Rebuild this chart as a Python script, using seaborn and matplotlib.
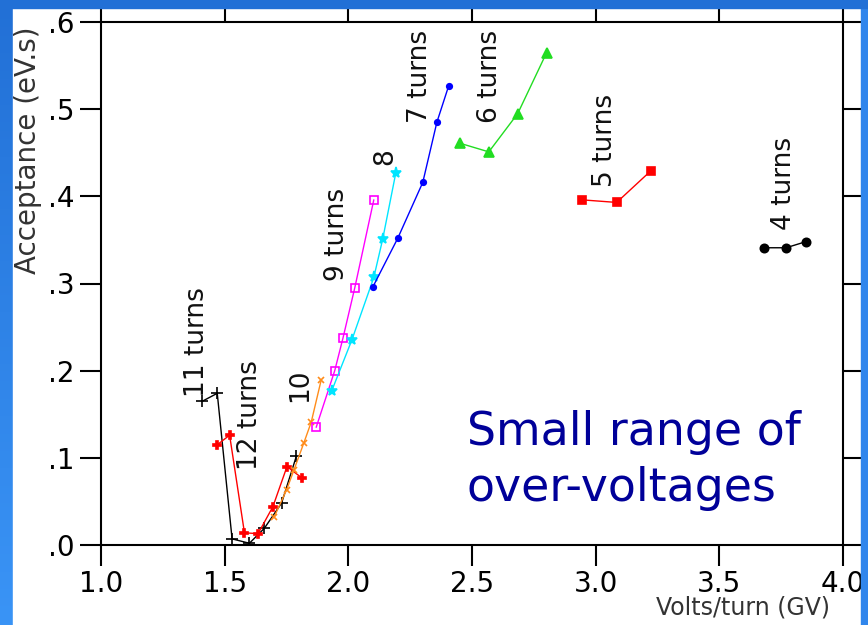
import numpy as np
import pandas as pd
import matplotlib
matplotlib.use("Agg")
import matplotlib.pyplot as plt
from matplotlib.patches import Rectangle
import seaborn as sns

# data: volts/turn (GV) vs acceptance (eV.s)
x_11 = [1.41, 1.47, 1.53, 1.60, 1.66, 1.73, 1.79]
y_11 = [0.165, 0.174, 0.007, 0.002, 0.019, 0.048, 0.102]
x_12 = [1.47, 1.52, 1.58, 1.635, 1.695, 1.752, 1.812]
y_12 = [0.115, 0.126, 0.014, 0.013, 0.044, 0.090, 0.077]
x_10 = [1.70, 1.75, 1.78, 1.82, 1.85, 1.89]
y_10 = [0.032, 0.063, 0.086, 0.117, 0.141, 0.189]
x_9 = [1.87, 1.945, 1.978, 2.026, 2.103]
y_9 = [0.135, 0.200, 0.237, 0.295, 0.396]
x_8 = [1.933, 2.014, 2.103, 2.139, 2.192]
y_8 = [0.177, 0.235, 0.307, 0.351, 0.427]
x_7 = [2.099, 2.20, 2.301, 2.358, 2.406]
y_7 = [0.296, 0.352, 0.416, 0.485, 0.527]
x_6 = [2.45, 2.568, 2.685, 2.802]
y_6 = [0.461, 0.451, 0.495, 0.565]
x_5 = [2.943, 3.085, 3.222]
y_5 = [0.396, 0.393, 0.429]
x_4 = [3.68, 3.77, 3.85]
y_4 = [0.341, 0.341, 0.348]

labels = ["11 turns", "12 turns", "10", "9 turns", "8", "7 turns", "6 turns", "5 turns", "4 turns"]
label_x = [1.388, 1.602, 1.804, 1.954, 2.148, 2.289, 2.572, 3.036, 3.76]
label_y = [0.233, 0.149, 0.183, 0.356, 0.445, 0.537, 0.537, 0.464, 0.415]

x_ticks = [1.0, 1.5, 2.0, 2.5, 3.0, 3.5, 4.0]
y_ticks = [0.0, 0.1, 0.2, 0.3, 0.4, 0.5, 0.6]
y_ticklabels = [".0", ".1", ".2", ".3", ".4", ".5", ".6"]

sns.set_style("white")
plt.rcParams['font.family'] = ['DejaVu Sans']

fig = plt.figure(figsize=(8.68, 6.25), dpi=100)

# slide background: blue gradient with white panel
bg = fig.add_axes([0, 0, 1, 1], zorder=-10)
grad = np.linspace(0, 1, 256).reshape(-1, 1)
bg.imshow(grad, aspect='auto', cmap=matplotlib.colors.LinearSegmentedColormap.from_list(
    'slide', ['#2270D6', '#3A94F6']), extent=[0, 1, 0, 1])
bg.add_patch(Rectangle((13 / 868, 0), (861 - 13) / 868, 1 - 8 / 625, color='white'))
bg.set_xlim(0, 1)
bg.set_ylim(0, 1)
bg.axis('off')

ax = fig.add_axes([101 / 868, 1 - 545 / 625, (843 - 101) / 868, (545 - 22) / 625])
ax.patch.set_alpha(0)

series = [
    (x_11, y_11, 'black', '+', 8, 'black'),
    (x_12, y_12, 'red', 'P', 6, 'red'),
    (x_10, y_10, '#FF8C1A', 'x', 5, '#FF8C1A'),
    (x_9, y_9, '#FF00FF', 's', 6, 'none'),
    (x_8, y_8, '#00E5FF', '*', 8, '#00E5FF'),
    (x_7, y_7, '#0000FF', 'o', 4, '#0000FF'),
    (x_6, y_6, '#22DD22', '^', 7, '#22DD22'),
    (x_5, y_5, 'red', 's', 6, 'red'),
    (x_4, y_4, 'black', 'o', 6, 'black'),
]
for xs, ys, c, m, ms, fc in series:
    df = pd.DataFrame({'x': xs, 'y': ys})
    sns.lineplot(data=df, x='x', y='y', sort=False, ax=ax, color=c, lw=1,
                 marker=m, markersize=ms, markerfacecolor=fc,
                 markeredgecolor=c, markeredgewidth=1.2)

for t, lx, ly in zip(labels, label_x, label_y):
    ax.text(lx, ly, t, rotation=90, ha='center', va='center', fontsize=19,
            color='#111111')

ax.set_xlim(1.0, 4.0)
ax.set_ylim(0.0, 0.6)
ax.set_xticks(x_ticks)
ax.set_xticklabels([f"{v:.1f}" for v in x_ticks])
ax.set_yticks(y_ticks)
ax.set_yticklabels(y_ticklabels)
ax.tick_params(axis='both', which='both', direction='out', length=15, width=1.5,
               labelsize=20, top=True, right=True, bottom=True, left=True, colors='black')
ax.tick_params(axis='x', pad=3)
ax.tick_params(axis='y', pad=4)
for s in ax.spines.values():
    s.set_visible(True)
    s.set_linewidth(1.5)
    s.set_color('black')
ax.set_xlabel('')
ax.set_ylabel('')

fig.text(830 / 868, 1 - 608 / 625, 'Volts/turn (GV)', ha='right', va='center', fontsize=17,
         color='#333333')
fig.text(28 / 868, 1 - 150 / 625, 'Acceptance (eV.s)', ha='center', va='center',
         rotation=90, fontsize=20, color='#333333')

ax.text(0.493, 0.162, 'Small range of\nover-voltages', transform=ax.transAxes,
        ha='left', va='center', fontsize=33, color='#000099', linespacing=1.3)

# blue edges drawn over the clipped tick label
fig.patches.append(Rectangle((861 / 868, 0), 7 / 868, 1, transform=fig.transFigure,
                             color='#3186EC', zorder=20))
fig.patches.append(Rectangle((0, 1 - 8 / 625), 1, 8 / 625, transform=fig.transFigure,
                             color='#2270D6', zorder=20))

fig.savefig('out.png', dpi=100)
